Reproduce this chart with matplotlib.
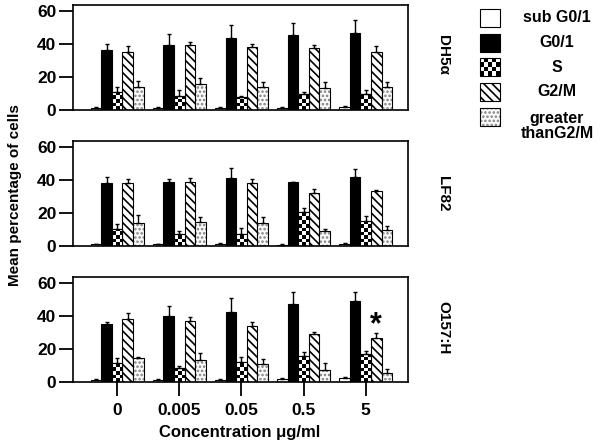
import numpy as np
import matplotlib
matplotlib.use("Agg")
import matplotlib.pyplot as plt
from matplotlib.patches import Rectangle

plt.rcParams['font.family'] = ['Liberation Sans', 'DejaVu Sans']
plt.rcParams['hatch.linewidth'] = 1.2

concentrations = ['0', '0.005', '0.05', '0.5', '5']
phases = ['sub G0/1', 'G0/1', 'S', 'G2/M', 'greater\nthanG2/M']
strains = ['DH5\u03b1', 'LF82', 'O157:H']

# rows: sub G0/1, G0/1, S, G2/M, greater than G2/M ; columns: concentrations
dh5a_mean = [[1.5, 1.5, 1.5, 1.5, 1.8],
             [36.5, 39.2, 43.7, 45.1, 46.7],
             [10.8, 8.7, 7.7, 9.5, 9.5],
             [34.9, 39.2, 38.0, 37.2, 35.0],
             [13.8, 15.6, 14.2, 13.2, 14.2]]
dh5a_err = [[0.5, 0.5, 0.5, 0.5, 0.7],
            [3.4, 6.5, 7.7, 7.7, 7.7],
            [3.0, 3.5, 1.0, 1.3, 2.7],
            [3.7, 1.8, 2.0, 2.4, 3.6],
            [3.5, 3.7, 2.7, 3.5, 2.7]]

lf82_mean = [[1.0, 1.0, 1.5, 0.8, 1.5],
             [37.9, 38.5, 40.9, 38.5, 41.5],
             [10.1, 7.2, 7.2, 20.7, 15.1],
             [37.9, 38.5, 37.9, 31.8, 33.2],
             [14.1, 14.4, 13.7, 9.1, 9.7]]
lf82_err = [[0.4, 0.4, 0.5, 0.3, 0.5],
            [4.0, 2.0, 6.4, 0.5, 4.8],
            [3.0, 2.0, 3.4, 2.0, 3.0],
            [2.6, 2.4, 2.6, 2.4, 0.6],
            [4.6, 2.9, 3.6, 1.0, 2.4]]

o157_mean = [[1.5, 1.5, 1.5, 2.0, 2.5],
             [35.0, 40.1, 42.5, 46.9, 48.9],
             [11.3, 8.3, 12.3, 15.7, 16.9],
             [38.1, 37.1, 34.0, 28.8, 26.8],
             [14.3, 13.3, 10.7, 7.3, 5.2]]
o157_err = [[0.5, 0.5, 0.5, 0.5, 0.3],
            [1.2, 5.8, 8.1, 7.3, 5.3],
            [3.4, 1.6, 3.0, 2.2, 2.0],
            [3.4, 2.4, 2.1, 1.6, 3.0],
            [0.6, 4.4, 3.2, 4.0, 2.5]]

means = [dh5a_mean, lf82_mean, o157_mean]
errs = [dh5a_err, lf82_err, o157_err]

# significance marker: (strain index, phase index, concentration index)
star_strain, star_phase, star_conc = 2, 3, 4

W, H = 600, 445
fig = plt.figure(figsize=(W / 100, H / 100), dpi=100)

def fr(x0, y_top, x1, y_bot):
    return [x0 / W, 1 - y_bot / H, (x1 - x0) / W, (y_bot - y_top) / H]

panel_px = [(5, 110), (141, 246), (277, 382)]
bw = 0.17
x = np.arange(len(concentrations))
checker = (np.indices((40, 8)).sum(axis=0) % 2).astype(float)
cx, cy = 3.6 / 62.0, 3.6 / 1.65
STIP_FACE, STIP_DOT = '#fafafa', '#808080'

axes = []
for si in range(3):
    top, bot = panel_px[si]
    ax = fig.add_axes(fr(73, top, 408, bot))
    axes.append(ax)
    m = means[si]
    e = errs[si]
    for pi in range(5):
        xs = x + (pi - 2) * bw
        vals = np.array(m[pi])
        er = np.array(e[pi])
        if pi == 0:
            bars = ax.bar(xs, vals, bw, facecolor='white', edgecolor='black', lw=0.8, zorder=2)
        elif pi == 1:
            bars = ax.bar(xs, vals, bw, facecolor='black', edgecolor='black', lw=0.8, zorder=2)
        elif pi == 2:
            bars = ax.bar(xs, vals, bw, facecolor='white', edgecolor='black', lw=0.8, zorder=2)
            for b in bars:
                bx, by = b.get_x(), b.get_y()
                nx = int(np.ceil(b.get_width() / cx))
                ny = int(np.ceil(b.get_height() / cy)) + 1
                img = ax.imshow(checker[:ny, :nx][::-1], cmap='gray_r', vmin=0, vmax=1,
                                extent=(bx, bx + nx * cx, by, by + ny * cy),
                                interpolation='nearest', aspect='auto', zorder=2.5)
                img.set_clip_path(b)
            ax.bar(xs, vals, bw, fill=False, edgecolor='black', lw=0.8, zorder=3)
        elif pi == 3:
            bars = ax.bar(xs, vals, bw, facecolor='white', edgecolor='black', lw=0.8,
                          hatch='\\\\\\\\', zorder=2)
        else:
            ax.bar(xs, vals, bw, facecolor=STIP_FACE, edgecolor=STIP_DOT, lw=0,
                   hatch='....', zorder=2)
            ax.bar(xs, vals, bw, fill=False, edgecolor='black', lw=0.8, zorder=3)
        ax.errorbar(xs, vals, yerr=[np.zeros_like(er), er], fmt='none', ecolor='black',
                    elinewidth=1.0, capsize=1.5, capthick=1.0, zorder=4)
    ax.set_xlim(-0.71, 4.68)
    ax.set_ylim(0, 63.5)
    ax.set_yticks([0, 20, 40, 60])
    ax.tick_params(axis='y', direction='out', length=10, width=1.3, pad=2,
                   labelsize=12.5)
    for lab in ax.get_yticklabels():
        lab.set_fontweight('bold')
    for s in ax.spines.values():
        s.set_linewidth(1.2)
    if si < 2:
        ax.set_xticks([])
    else:
        ax.set_xticks(x)
        ax.set_xticklabels(concentrations, fontsize=12.5, fontweight='bold')
        ax.tick_params(axis='x', direction='out', length=10, width=1.3, pad=5)
        ax.text(x[star_conc] + (star_phase - 2) * bw,
                means[star_strain][star_phase][star_conc] + errs[star_strain][star_phase][star_conc] + 4.5,
                '*', ha='center', va='center', fontsize=22, fontweight='bold')

# overlay axes in pixel coordinates for labels and legend
ov = fig.add_axes([0, 0, 1, 1], zorder=-1)
ov.set_xlim(0, W)
ov.set_ylim(H, 0)
ov.axis('off')

label_y = [55, 194, 328]
for si in range(3):
    ov.text(443, label_y[si], strains[si], rotation=270, ha='center', va='center',
            fontsize=11, fontweight='bold')

ov.text(15, 195, 'Mean percentage of cells', rotation=90, ha='center', va='center',
        fontsize=11, fontweight='bold')
ov.text(240, 432, 'Concentration \u03bcg/ml', ha='center', va='center',
        fontsize=12, fontweight='bold')

leg_y = [18, 42.5, 67, 92, 116.5]
bx0, bx1, bh = 480, 500, 18
for pi in range(5):
    yc = leg_y[pi]
    if pi == 0:
        ov.add_patch(Rectangle((bx0, yc - bh / 2), bx1 - bx0, bh, facecolor='white',
                               edgecolor='black', lw=0.8))
    elif pi == 1:
        ov.add_patch(Rectangle((bx0, yc - bh / 2), bx1 - bx0, bh, facecolor='black',
                               edgecolor='black', lw=0.8))
    elif pi == 2:
        ov.imshow(checker[:4, :5], cmap='gray_r', vmin=0, vmax=1,
                  extent=(bx0, bx1, yc + bh / 2, yc - bh / 2), interpolation='nearest',
                  aspect='auto')
        ov.add_patch(Rectangle((bx0, yc - bh / 2), bx1 - bx0, bh, fill=False,
                               edgecolor='black', lw=0.8))
    elif pi == 3:
        ov.add_patch(Rectangle((bx0, yc - bh / 2), bx1 - bx0, bh, facecolor='white',
                               edgecolor='black', lw=0.8, hatch='\\\\\\\\'))
    else:
        ov.add_patch(Rectangle((bx0, yc - bh / 2), bx1 - bx0, bh, facecolor=STIP_FACE,
                               edgecolor=STIP_DOT, lw=0, hatch='....'))
        ov.add_patch(Rectangle((bx0, yc - bh / 2), bx1 - bx0, bh, fill=False,
                               edgecolor='black', lw=0.8))
    ty = yc + (9 if pi == 4 else 0)
    ov.text(557, ty, phases[pi], ha='center', va='center', fontsize=11.5,
            fontweight='bold', linespacing=1.0)
ov.set_xlim(0, W)
ov.set_ylim(H, 0)

fig.savefig('out.png', dpi=100)
